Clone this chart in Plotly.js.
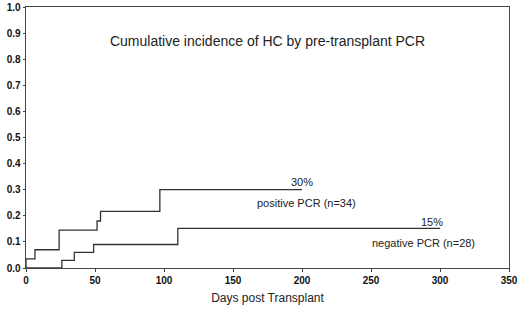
<!DOCTYPE html>
<html>
<head>
<meta charset="utf-8">
<script src="https://cdn.plot.ly/plotly-3.0.1.min.js"></script>
<style>html,body{margin:0;padding:0;background:#fff;}#chart{width:520px;height:309px;}</style>
</head>
<body>
<div id="chart"></div>
<script>
// Positive PCR (n=34) cumulative incidence steps
var posDays = [0, 0, 6.5, 24, 51.5, 54, 97, 200];
var posInc  = [0, 0.035, 0.07, 0.145, 0.18, 0.217, 0.30, 0.30];
// Negative PCR (n=28) cumulative incidence steps
var negDays = [0, 26, 35, 49, 110, 300];
var negInc  = [0, 0.029, 0.06, 0.09, 0.152, 0.152];

var xTicks = [0, 50, 100, 150, 200, 250, 300, 350];
var yTicks = [0, 0.1, 0.2, 0.3, 0.4, 0.5, 0.6, 0.7, 0.8, 0.9, 1.0];
var yTickText = ['0.0','0.1','0.2','0.3','0.4','0.5','0.6','0.7','0.8','0.9','1.0'];

var lineCol = '#333333';
var traces = [
  {x: posDays, y: posInc, mode: 'lines', line: {shape: 'hv', color: lineCol, width: 1.3}, hoverinfo: 'skip'},
  {x: negDays, y: negInc, mode: 'lines', line: {shape: 'hv', color: lineCol, width: 1.3}, hoverinfo: 'skip'}
];

var bold = function (s) { return '<b>' + s + '</b>'; };
var annFont = {family: 'Liberation Sans, Arial, sans-serif', size: 11, color: '#222'};
var layout = {
  width: 520, height: 309,
  margin: {l: 26, r: 11, t: 7, b: 41},
  paper_bgcolor: '#fff', plot_bgcolor: '#fff',
  showlegend: false,
  title: {text: 'Cumulative incidence of HC by pre-transplant PCR',
          font: {family: 'Liberation Sans, Arial, sans-serif', size: 14, color: '#222'},
          x: 0.5, xref: 'paper', xanchor: 'center', y: 1 - 41/309, yref: 'container', yanchor: 'middle'},
  xaxis: {range: [0, 350], tickvals: xTicks, ticktext: xTicks.map(function (v) { return bold(String(v)); }),
          showgrid: false, zeroline: false, showline: true, mirror: true,
          linecolor: '#444', linewidth: 1.3, ticks: 'outside', ticklen: 3, tickcolor: '#444',
          tickfont: {family: 'Liberation Sans, Arial, sans-serif', size: 10, color: '#111'},
          title: {text: 'Days post Transplant', standoff: 8,
                  font: {family: 'Liberation Sans, Arial, sans-serif', size: 12, color: '#222'}}},
  yaxis: {range: [0, 1.0], tickvals: yTicks, ticktext: yTickText.map(bold),
          showgrid: false, zeroline: false, showline: true, mirror: true,
          linecolor: '#444', linewidth: 1.3, ticks: 'outside', ticklen: 2, tickcolor: '#444',
          tickfont: {family: 'Liberation Sans, Arial, sans-serif', size: 10, color: '#111'}},
  annotations: [
    {x: 200, y: 0.328, xref: 'x', yref: 'y', text: '30%', showarrow: false, font: annFont},
    {x: 203, y: 0.249, xref: 'x', yref: 'y', text: 'positive PCR (n=34)', showarrow: false, font: annFont},
    {x: 294, y: 0.178, xref: 'x', yref: 'y', text: '15%', showarrow: false, font: annFont},
    {x: 288, y: 0.096, xref: 'x', yref: 'y', text: 'negative PCR (n=28)', showarrow: false, font: annFont}
  ]
};
Plotly.newPlot('chart', traces, layout, {staticPlot: true, displayModeBar: false});
</script>
</body>
</html>
